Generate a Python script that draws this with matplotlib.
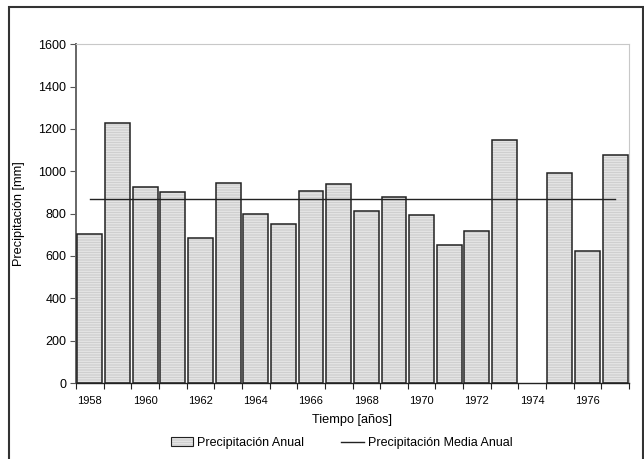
import numpy as np
import matplotlib
matplotlib.use("Agg")
import matplotlib.pyplot as plt
from matplotlib.patches import Rectangle, Patch
from matplotlib.lines import Line2D

plt.rcParams['font.family'] = ['Liberation Sans', 'DejaVu Sans']
plt.rcParams['hatch.linewidth'] = 0.5

years = list(range(1958, 1978))
precip = [703, 1227, 928, 901, 683, 944, 798, 749, 909, 939,
          812, 881, 795, 650, 716, 1147, np.nan, 994, 623, 1079]
mean_precip = 867
y_ticks = [0, 200, 400, 600, 800, 1000, 1200, 1400, 1600]
x_labels = [str(y) for y in years[::2]]

fig = plt.figure(figsize=(6.44, 4.59), dpi=100)
ax = fig.add_axes([76/644, 1-383/459, (629-76)/644, (383-44.3)/459])

x = np.arange(len(years))
vals = np.array(precip, dtype=float)
fill_c = '#ebebeb'
hatch_c = '#c4c4c4'
# hatched fill
ax.bar(x, vals, width=0.9, color=fill_c, edgecolor=hatch_c,
       hatch='----------', linewidth=0, zorder=2)
# outline
ax.bar(x, vals, width=0.9, fill=False, edgecolor='#222222', linewidth=1.1, zorder=3)
ax.plot(x, [mean_precip]*len(x), color='#222222', linewidth=1.0, zorder=4)

ax.set_xlim(-0.5, len(years)-0.5)
ax.set_ylim(0, 1600)
ax.set_yticks(y_ticks)
ax.tick_params(axis='y', direction='out', length=4, labelsize=9, pad=3, color='#555555')
ax.set_xticks(np.arange(-0.5, len(years), 1.0))
ax.set_xticklabels([])
ax.tick_params(axis='x', which='major', direction='out', length=4, color='#222222')
ax.set_xticks(x[::2], minor=True)
ax.set_xticklabels(x_labels, minor=True)
ax.tick_params(axis='x', which='minor', length=0, labelsize=8, pad=9)

for s in ['top', 'right']:
    ax.spines[s].set_color('#c8c8c8')
    ax.spines[s].set_linewidth(0.8)
ax.spines['left'].set_color('#666666')
ax.spines['left'].set_linewidth(1.4)
ax.spines['bottom'].set_color('#222222')
ax.spines['bottom'].set_linewidth(1.0)

ax.set_ylabel('Precipitación [mm]', fontsize=9.2)
ax.yaxis.set_label_coords(-0.092, 0.5)
ax.set_xlabel('Tiempo [años]', fontsize=9.2, labelpad=6)

h_fill = Patch(facecolor=fill_c, edgecolor=hatch_c, hatch='----------', linewidth=0)
h_edge = Patch(fill=False, edgecolor='#222222', linewidth=0.8)
h_line = Line2D([0], [0], color='#222222', linewidth=1.0)
fig.legend([(h_fill, h_edge), h_line], ['Precipitación Anual', 'Precipitación Media Anual'],
           loc='center', bbox_to_anchor=(0.53, 1-443/459), ncol=2, frameon=False,
           fontsize=9, handlelength=1.8, handletextpad=0.3, columnspacing=3.0)

fig.add_artist(Rectangle((9/644, -0.05), (642.5-9)/644, 1.05-7/459, transform=fig.transFigure,
                         fill=False, edgecolor='#333333', linewidth=1.5))

fig.savefig('out.png', dpi=100)
